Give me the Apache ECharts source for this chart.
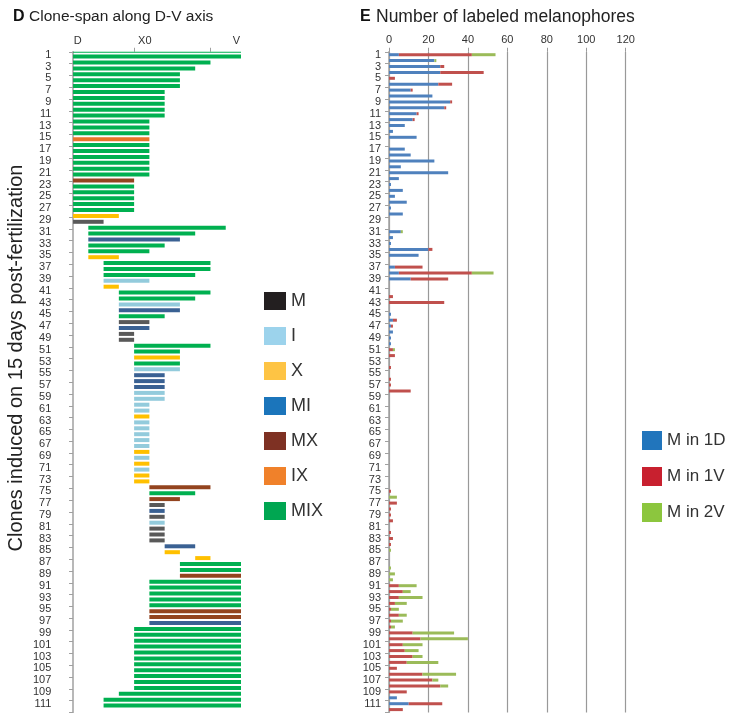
<!DOCTYPE html>
<html>
<head>
<meta charset="utf-8">
<script src="https://cdn.jsdelivr.net/npm/echarts@6/dist/echarts.min.js"></script>
<style>
  html, body { margin: 0; padding: 0; background: #ffffff; }
  #chart { width: 734px; height: 713px; }
</style>
</head>
<body>
<div id="chart"></div>
<script>
// Clone identifiers 1..112 (rows of both panels)
const clones = Array.from({ length: 112 }, (_, i) => String(i + 1));

// Panel D: span of each clone along the dorsal-ventral axis (grid units, D = 0)
const spanStart = [
  0,0,0,0,0,0,0,0,0,0,
  0,0,0,0,0,0,0,0,0,0,
  0,0,0,0,0,0,0,0,0,0,
  1,1,1,1,1,1,2,2,2,2,
  2,3,3,3,3,3,3,3,3,3,
  4,4,4,4,4,4,4,4,4,4,
  4,4,4,4,4,4,4,4,4,4,
  4,4,4,4,5,5,5,5,5,5,
  5,5,5,5,6,6,8,7,7,7,
  5,5,5,5,5,5,5,5,4,4,
  4,4,4,4,4,4,4,4,4,3,
  2,2
];
const spanEnd = [
  11,11,9,8,7,7,7,6,6,6,
  6,6,5,5,5,5,5,5,5,5,
  5,5,4,4,4,4,4,4,3,2,
  10,8,7,6,5,3,9,9,8,5,
  3,9,8,7,7,6,5,5,4,4,
  9,7,7,7,7,6,6,6,6,6,
  5,5,5,5,5,5,5,5,5,5,
  5,5,5,5,9,8,7,6,6,6,
  6,6,6,6,8,7,9,11,11,11,
  11,11,11,11,11,11,11,11,11,11,
  11,11,11,11,11,11,11,11,11,11,
  11,11
];
const cloneType = [
  'MIX','MIX','MIX','MIX','MIX','MIX','MIX','MIX','MIX','MIX',
  'MIX','MIX','MIX','MIX','MIX','IX','MIX','MIX','MIX','MIX',
  'MIX','MIX','MX','MIX','MIX','MIX','MIX','MIX','X','M',
  'MIX','MIX','MI','MIX','MIX','X','MIX','MIX','MIX','I',
  'X','MIX','MIX','I','MI','MIX','M','MI','M','M',
  'MIX','MIX','X','MIX','I','MI','MI','MI','I','I',
  'I','I','X','I','I','I','I','I','X','I',
  'X','I','X','X','MX','MIX','MX','M','MI','M',
  'I','M','M','M','MI','X','X','MIX','MIX','MX',
  'MIX','MIX','MIX','MIX','MIX','MX','MX','MI','MIX','MIX',
  'MIX','MIX','MIX','MIX','MIX','MIX','MIX','MIX','MIX','MIX',
  'MIX','MIX'
];
const typeNames = ['M', 'I', 'X', 'MI', 'MX', 'IX', 'MIX'];

// Panel D axis labels
const dvTickLabels = ['D', 'X0', 'V'];
const dvTickValues = [0.3, 4.7, 10.7];

// Panel E: labeled melanophores per clone
const m1D = [
  5,23,26,26,0,25,11,22,31,28,
  14,12,8,2,14,0,8,11,23,6,
  30,5,1,7,3,9,1,7,0,0,
  6,2,1,20,15,0,3,5,11,0,
  0,0,0,0,1,2,1,2,1,1,
  0,0,0,0,0,0,0,0,0,0,
  0,0,0,0,0,0,0,0,0,0,
  0,0,0,0,0,0,0,0,0,0,
  0,0,0,0,0,0,0,0,0,0,
  0,0,0,0,0,0,0,0,0,0,
  0,0,0,0,0,0,0,0,0,4,
  10,0
];
const m1V = [
  37,0,2,22,3,7,1,0,1,1,
  1,1,0,0,0,0,0,0,0,0,
  0,0,0,0,0,0,0,0,0,0,
  0,0,0,2,0,0,14,37,19,0,
  0,2,28,0,0,2,1,0,0,0,
  2,3,0,1,0,1,1,11,0,0,
  0,0,0,0,0,0,0,0,0,0,
  0,0,0,0,1,0,4,1,1,2,
  0,1,2,1,0,0,0,0,0,0,
  5,7,5,3,1,5,1,1,12,16,
  7,8,12,9,4,17,22,26,9,0,
  17,7
];
const m2V = [
  12,1,0,0,0,0,0,0,0,0,
  0,0,0,0,0,0,0,0,0,0,
  0,0,0,0,0,0,0,0,0,0,
  1,0,0,0,0,0,0,11,0,0,
  0,0,0,0,0,0,0,0,0,0,
  1,0,0,0,0,0,0,0,0,0,
  0,0,0,0,0,0,0,0,0,0,
  0,0,0,0,0,4,0,0,0,0,
  0,0,0,0,1,0,0,1,3,2,
  9,4,12,6,4,4,6,2,21,24,
  10,7,5,16,0,17,3,4,0,0,
  0,0
];
const countNames = ['M in 1D', 'M in 1V', 'M in 2V'];

// Styling
const FONT = 'Liberation Sans, Arial, sans-serif';
const barColor = { M: '#595959', I: '#93cbdc', X: '#ffc000', MI: '#3a6193', MX: '#93441f', IX: '#e8762a', MIX: '#00b050' };
const keyColor = { M: '#231f20', I: '#9cd3ec', X: '#fec444', MI: '#1b75bb', MX: '#7e3123', IX: '#f0812a', MIX: '#00a651' };
const countColor = ['#4f81bd', '#c0504d', '#9bbb59'];
const countKeyColor = ['#2175bc', '#c8202f', '#8cc63e'];

const chart = echarts.init(document.getElementById('chart'), null, { renderer: 'canvas' });

const rowAxis = (gridIndex) => ({
  type: 'category',
  gridIndex,
  data: clones,
  inverse: true,
  position: 'left',
  axisLine: { show: true, lineStyle: { color: '#a0a0a0', width: 1.5 } },
  axisTick: { show: true, interval: 1, length: 4, lineStyle: { color: '#a0a0a0' } },
  axisLabel: { interval: 1, fontFamily: FONT, fontSize: 11, color: '#333', margin: 8 },
  splitLine: { show: false }
});

const spanSeries = [
  {
    type: 'bar', name: 'base', xAxisIndex: 0, yAxisIndex: 0, stack: 'span',
    barWidth: 4, silent: true,
    itemStyle: { color: 'rgba(0,0,0,0)' },
    data: spanStart
  },
  {
    type: 'bar', name: 'span', xAxisIndex: 0, yAxisIndex: 0, stack: 'span',
    barWidth: 4,
    data: spanEnd.map((e, i) => ({
      value: e - spanStart[i],
      itemStyle: { color: barColor[cloneType[i]] }
    }))
  }
];

// Empty series that only feed the clone-type key
const keySeries = typeNames.map(t => ({
  type: 'bar', name: t, xAxisIndex: 0, yAxisIndex: 0,
  itemStyle: { color: keyColor[t] }, data: []
}));

const countSeries = [m1D, m1V, m2V].map((arr, k) => ({
  type: 'bar', name: countNames[k], xAxisIndex: 1, yAxisIndex: 1, stack: 'count',
  barWidth: 3,
  itemStyle: { color: countColor[k] },
  data: arr
}));

chart.setOption({
  animation: false,
  backgroundColor: '#ffffff',
  textStyle: { fontFamily: FONT },
  title: [
    { text: 'D', left: 8, top: 4, textStyle: { fontFamily: FONT, fontSize: 16, fontWeight: 'bold', color: '#111' } },
    { text: 'Clone-span along D-V axis', left: 24, top: 4, textStyle: { fontFamily: FONT, fontSize: 15.5, fontWeight: 'normal', color: '#222' } },
    { text: 'E', left: 355, top: 4, textStyle: { fontFamily: FONT, fontSize: 16, fontWeight: 'bold', color: '#111' } },
    { text: 'Number of labeled melanophores', left: 371, top: 3, textStyle: { fontFamily: FONT, fontSize: 17.5, fontWeight: 'normal', color: '#222' } }
  ],
  graphic: [
    {
      type: 'text', x: 16, y: 358, rotation: Math.PI / 2,
      style: {
        text: 'Clones induced on 15 days post-fertilization',
        font: '20px ' + FONT, fill: '#222',
        align: 'center', verticalAlign: 'middle'
      }
    }
  ],
  legend: [
    {
      data: typeNames.map(t => ({ name: t, itemStyle: { color: keyColor[t] } })),
      orient: 'vertical', left: 259, top: 287,
      icon: 'rect', itemWidth: 22, itemHeight: 18, itemGap: 17,
      selectedMode: false,
      textStyle: { fontFamily: FONT, fontSize: 18, color: '#333', lineHeight: 18 }
    },
    {
      data: countNames.map((n, k) => ({ name: n, itemStyle: { color: countKeyColor[k] } })),
      orient: 'vertical', left: 637, top: 426,
      icon: 'rect', itemWidth: 20, itemHeight: 19, itemGap: 17,
      selectedMode: false,
      textStyle: { fontFamily: FONT, fontSize: 17, color: '#333', lineHeight: 19 }
    }
  ],
  grid: [
    { left: 59.3, top: 51.75, width: 181.7, height: 660.8, containLabel: false },
    { left: 389, top: 51.75, width: 236.7, height: 660.8, containLabel: false }
  ],
  xAxis: [
    {
      type: 'value', gridIndex: 0, position: 'top',
      min: -0.9, max: 11,
      axisLine: { show: false },
      axisTick: { show: true, customValues: [4, 9], length: 4, lineStyle: { color: '#a0a0a0' } },
      axisLabel: {
        customValues: dvTickValues,
        formatter: v => dvTickLabels[dvTickValues.indexOf(v)],
        fontFamily: FONT, fontSize: 11, color: '#333', margin: 5
      },
      splitLine: { show: false }
    },
    {
      type: 'value', gridIndex: 1, position: 'top',
      min: 0, max: 120, interval: 20,
      axisLine: { show: false },
      axisTick: { show: true, length: 4, lineStyle: { color: '#999' } },
      axisLabel: { fontFamily: FONT, fontSize: 11, color: '#333', margin: 6 },
      splitLine: { show: true, lineStyle: { color: '#999', width: 1.2 } }
    }
  ],
  yAxis: [rowAxis(0), rowAxis(1)],
  series: [...spanSeries, ...keySeries, ...countSeries]
});
</script>
</body>
</html>
